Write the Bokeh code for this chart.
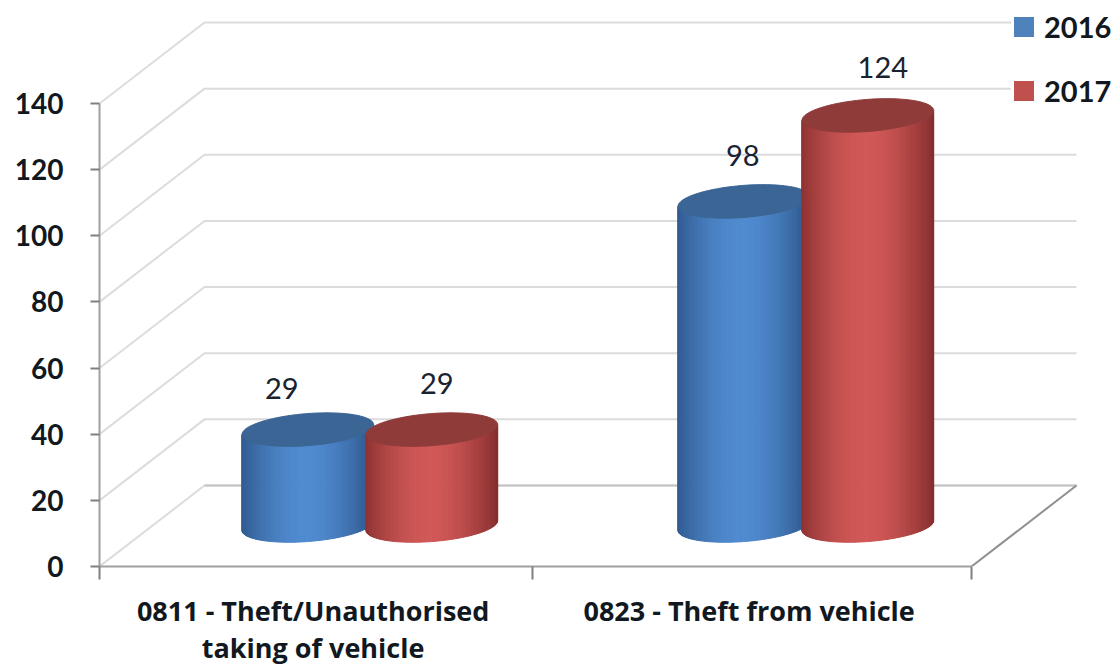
import math
from bokeh.plotting import figure
from bokeh.embed import file_html
from bokeh.resources import INLINE
from bokeh.models import FixedTicker, Legend, LegendItem, ColumnDataSource
from bokeh.core.properties import value

categories = ["0811 - Theft/Unauthorised\ntaking of vehicle", "0823 - Theft from vehicle"]
series_names = ["2016", "2017"]
values_2016 = [29, 98]
values_2017 = [29, 124]
y_ticks = [0, 20, 40, 60, 80, 100, 120, 140]
label_dx = {"2016": [-26, -1], "2017": [5, 15]}
label_gap = {"2016": [41, 46], "2017": [46, 48]}

W, H = 1119, 666
LEFT, BASE, PX_X, PX_Y = 99, 566, 436.0, 3.307
DX, DY = 105 / PX_X, 81 / PX_Y
FONT = "Lato"
XFONT = "Open Sans"

p = figure(width=W, height=H, frame_width=W - LEFT, frame_height=BASE,
           output_backend="svg", toolbar_location=None,
           x_range=(0, (W - LEFT) / PX_X), y_range=(0, BASE / PX_Y),
           min_border_left=LEFT, min_border_right=0, min_border_top=0,
           min_border_bottom=H - BASE, outline_line_color=None)
p.grid.visible = False

# y axis
ya = p.yaxis[0]
ya.ticker = FixedTicker(ticks=y_ticks)
ya.bounds = (0, 140)
ya.axis_line_color = "#a0a0a0"
ya.axis_line_width = 2
ya.major_tick_line_color = "#808080"
ya.major_tick_line_width = 2
ya.major_tick_in = 0
ya.major_tick_out = 9
ya.minor_tick_line_color = None
ya.major_label_standoff = 27
ya.major_label_text_font = FONT
ya.major_label_text_font_style = "bold"
ya.major_label_text_font_size = "28px"
ya.major_label_text_color = "#111820"

# x axis
xa = p.xaxis[0]
cat_pos = [0.49, 1.49]
xa.ticker = FixedTicker(ticks=cat_pos, minor_ticks=[0, 0.993, 2])
xa.bounds = (0, 2)
xa.major_label_overrides = dict(zip(cat_pos, categories))
xa.axis_line_color = "#a0a0a0"
xa.axis_line_width = 2
xa.major_tick_line_color = None
xa.major_tick_in = 0
xa.major_tick_out = 0
xa.minor_tick_line_color = "#808080"
xa.minor_tick_line_width = 2
xa.minor_tick_in = 0
xa.minor_tick_out = 13
xa.major_label_standoff = 12
xa.major_label_text_font = XFONT
xa.major_label_text_font_style = "bold"
xa.major_label_text_font_size = "27px"
xa.major_label_text_color = "#111820"
xa.major_label_text_line_height = 1.0

# walls
for v in y_ticks:
    p.line([0, DX, 2 + DX], [v, v + DY, v + DY], line_color="#dcdcdc", line_width=2)
p.line([DX, 2 + DX], [DY, DY], line_color="#c4c4c4", line_width=2)
p.line([2, 2 + DX], [0, DY], line_color="#909090", line_width=2)


def mix(a, b, f):
    return "#%02x%02x%02x" % tuple(int(round(a[i] + (b[i] - a[i]) * f)) for i in range(3))


A, B, TH = 66.0, 16.0, math.radians(4.5)
LIFT = 41 / PX_Y
OFFSET = 62.0 / PX_X
CENTRE = 0.62
STYLE = {
    "2016": dict(dark=(0x2c, 0x55, 0x88), light=(0x50, 0x8a, 0xcf), top="#3a6595", key="#4f81bd"),
    "2017": dict(dark=(0x85, 0x2e, 0x2e), light=(0xd0, 0x58, 0x56), top="#8e3b3a", key="#c0504d"),
}


def ell(cx, cy, t):
    ex = A * math.cos(t) * math.cos(TH) - B * math.sin(t) * math.sin(TH)
    ey = A * math.cos(t) * math.sin(TH) + B * math.sin(t) * math.cos(TH)
    return cx + ex / PX_X, cy + ey / PX_Y


def cylinder(cx, v, st):
    t0 = math.atan2(-B * math.sin(TH), A * math.cos(TH))
    n = 64
    xs, ys, cols = [], [], []
    for i in range(n):
        a0 = t0 - math.pi * i / n
        a1 = t0 - math.pi * (i + 1) / n
        b0, b1 = ell(cx, LIFT, a0), ell(cx, LIFT, a1)
        u0, u1 = ell(cx, LIFT + v, a0), ell(cx, LIFT + v, a1)
        xs.append([b0[0], b1[0], u1[0], u0[0]])
        ys.append([b0[1], b1[1], u1[1], u0[1]])
        u = (b0[0] + b1[0]) / 2
        u = (u - cx) * PX_X / A
        cols.append(mix(st["dark"], st["light"], max(0.0, math.cos((u + 0.05) * math.pi / 2.1))))
    p.patches(xs, ys, fill_color=cols, line_color=cols, line_width=1)
    tops = [ell(cx, LIFT + v, 2 * math.pi * j / 80) for j in range(80)]
    p.patch([q[0] for q in tops], [q[1] for q in tops], fill_color=st["top"], line_color=st["top"], line_width=1)


legend_items = []
for s, (name, vals) in enumerate(zip(series_names, [values_2016, values_2017])):
    sign = -1 if s == 0 else 1
    st = STYLE[name]
    for c, v in enumerate(vals):
        cylinder(c + CENTRE + sign * OFFSET, v, st)
    xs = [c + CENTRE + sign * OFFSET + label_dx[name][c] / PX_X for c in range(2)]
    ys = [v + LIFT + label_gap[name][c] / PX_Y for c, v in enumerate(vals)]
    src = ColumnDataSource(dict(x=xs, y=ys, t=[str(v) for v in vals]))
    p.text("x", "y", "t", source=src, text_align="center", text_baseline="middle",
           text_font=value(FONT), text_font_size="29px", text_color="#1a2230")
    r = p.quad(left=[float("nan")], right=[float("nan")], top=[float("nan")], bottom=[float("nan")],
               fill_color=st["key"], line_color=None)
    legend_items.append(LegendItem(label=name, renderers=[r]))

legend = Legend(items=legend_items, location=(912, 458), orientation="vertical",
                glyph_width=25, glyph_height=25, spacing=29, padding=0, margin=0,
                label_standoff=8, border_line_color=None, background_fill_color="white",
                background_fill_alpha=1.0,
                label_text_font=FONT, label_text_font_style="bold",
                label_text_font_size="29px", label_text_color="#111820")
p.add_layout(legend, "center")

open("out.html", "w").write(file_html(p, INLINE))
